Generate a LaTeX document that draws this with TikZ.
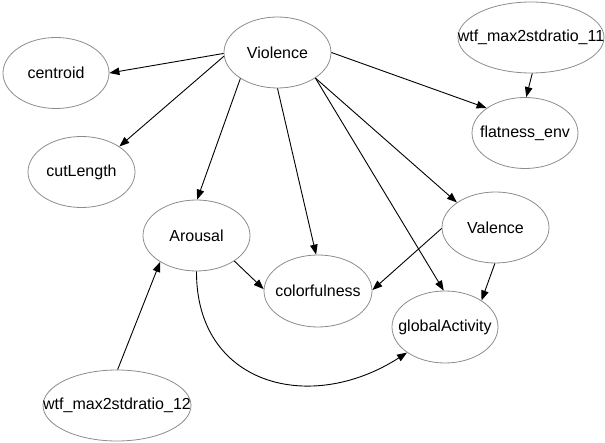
\documentclass[tikz,border=0pt]{standalone}
\usepackage{fontspec}
\setmainfont{Liberation Sans}
\usetikzlibrary{arrows.meta,shapes.geometric}
\newcommand{\zw}[1]{\makebox[0pt]{#1}}
\begin{document}
\begin{tikzpicture}[x=1pt,y=-1pt,
  nd/.style={ellipse,draw=black!45,line width=0.8pt,inner sep=0pt,
    minimum width=#1,minimum height=71pt,font=\fontsize{16}{18}\selectfont},
  nd/.default=107pt,
  edge/.style={draw=black,line width=0.9pt,-{Triangle[length=10pt,width=7.5pt]}}]
\useasboundingbox (0,0) rectangle (605,443);
\node[nd] (Violence) at (277.5,52.5) {\zw{Violence}};
\node[nd=106pt] (centroid) at (56,73) {\zw{centroid}};
\node[nd=146pt] (wtf11) at (531,37.5) {\zw{wtf\_max2stdratio\_11}};
\node[nd=106pt] (flatness) at (525,133) {\zw{flatness\_env}};
\node[nd] (cutLength) at (81.5,172) {\zw{cutLength}};
\node[nd] (Arousal) at (196.5,235.5) {\zw{Arousal}};
\node[nd] (Valence) at (495.5,227.5) {\zw{Valence}};
\node[nd=108pt,minimum height=72pt] (colorfulness) at (318,291) {\zw{colorfulness}};
\node[nd=106pt,minimum height=72pt] (globalActivity) at (445,327) {\zw{globalActivity}};
\node[nd=148pt] (wtf12) at (117,405.5) {\zw{wtf\_max2stdratio\_12}};

\draw[edge] (Violence.181) -- (centroid.0);
\draw[edge] (Violence.184) -- (cutLength.34);
\draw[edge] (Violence.215.5) -- (Arousal.89);
\draw[edge] (Violence.270) -- (colorfulness.93.6);
\draw[edge] (Violence.0) -- (flatness.147);
\draw[edge] (Violence.326) -- (Valence.147);
\draw[edge] (Violence.326) -- (globalActivity.92.6);
\draw[edge] (wtf11.272) -- (flatness.88.4);
\draw[edge] (Valence.181) -- (colorfulness.1);
\draw[edge] (Valence.269) -- (globalActivity.36);
\draw[edge] (Arousal.326) -- (colorfulness.178);
\draw[edge] (wtf12.89) -- (Arousal.216.3);
\draw[edge] (Arousal.270) .. controls (196,385) and (310,415) .. (globalActivity.214);
\end{tikzpicture}
\end{document}
